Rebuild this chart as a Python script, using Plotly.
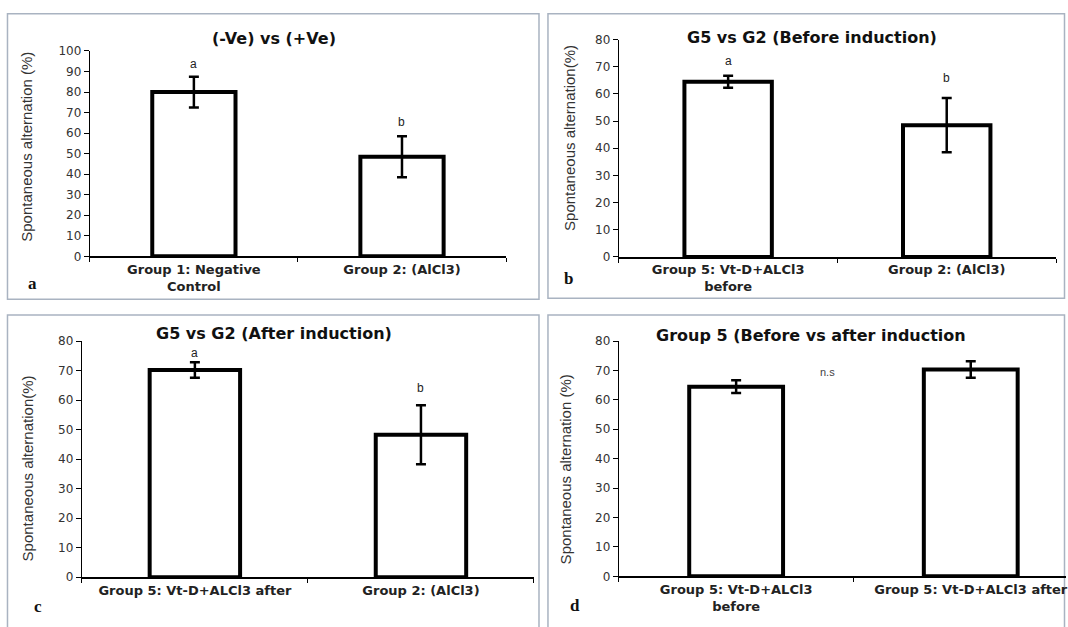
import plotly.graph_objects as go

W, H = 1068, 627

# ---------------- data ----------------
cats_a = ["Group 1: Negative<br>Control", "Group 2: (AlCl3)"]
vals_a = [80.0, 48.5]
err_a = [7.5, 10.0]
sig_a = ["a", "b"]

cats_b = ["Group 5: Vt-D+ALCl3<br>before", "Group 2: (AlCl3)"]
vals_b = [64.5, 48.5]
err_b = [2.2, 10.0]
sig_b = ["a", "b"]

cats_c = ["Group 5: Vt-D+ALCl3 after", "Group 2: (AlCl3)"]
vals_c = [70.2, 48.3]
err_c = [2.6, 10.0]
sig_c = ["a", "b"]

cats_d = ["Group 5: Vt-D+ALCl3<br>before", "Group 5: Vt-D+ALCl3 after"]
vals_d = [64.5, 70.3]
err_d = [2.2, 2.8]

titles = ["(-Ve) vs (+Ve)", "G5 vs G2 (Before induction)",
          "G5 vs G2 (After induction)", "Group 5 (Before vs after induction"]
ytitles = ["Spontaneous alternation (%)", "Spontaneous alternation(%)",
           "Spontaneous alternation(%)", "Spontaneous alternation (%)"]
panel_letters = ["a", "b", "c", "d"]


def fx(p):
    return p / W


def fy(p):
    return 1 - p / H


fig = go.Figure()

panels = [
    dict(cats=cats_a, vals=vals_a, err=err_a, ymax=100, xp=(90, 507), y0=255, ytop=45, xr=[-0.5, 1.5]),
    dict(cats=cats_b, vals=vals_b, err=err_b, ymax=80, xp=(620, 1058), y0=255.7, ytop=33.3, xr=[-0.5, 1.5]),
    dict(cats=cats_c, vals=vals_c, err=err_c, ymax=80, xp=(82, 535), y0=583.3, ytop=341.7, xr=[-0.5, 1.5]),
    dict(cats=cats_d, vals=vals_d, err=err_d, ymax=80, xp=(620, 1068), y0=582.3, ytop=341.7, xr=[-0.5, 1.406]),
]

tickfont = dict(family="DejaVu Sans", size=12, color="#333333")
catfont = dict(family="DejaVu Sans", size=13, color="#222222", weight="bold")

for i, p in enumerate(panels):
    n = "" if i == 0 else str(i + 1)
    fig.add_trace(go.Bar(
        x=[0, 1], y=p["vals"], width=0.4,
        marker=dict(color="white", line=dict(color="black", width=4)),
        error_y=dict(type="data", array=p["err"], color="black", thickness=2.5, width=5),
        xaxis="x" + n, yaxis="y" + n, showlegend=False,
    ))
    fig.layout["xaxis" + n] = dict(
        domain=[fx(p["xp"][0]), fx(p["xp"][1])], range=p["xr"],
        anchor="y" + n, tickvals=[0, 1], ticktext=p["cats"], ticks="",
        showline=True, linecolor="black", linewidth=1.5, showgrid=False,
        zeroline=False, tickfont=catfont, fixedrange=True,
        ticklabeloverflow="allow",
        minor=dict(tickvals=[-0.5, 0.5, 1.5], ticks="outside", ticklen=4,
                   tickcolor="black", tickwidth=1.2, showgrid=False),
    )
    fig.layout["yaxis" + n] = dict(
        domain=[fy(p["y0"]), fy(p["ytop"])], range=[0, p["ymax"]],
        anchor="x" + n, dtick=10, tick0=0, ticks="outside", ticklen=5,
        tickcolor="black", tickwidth=1.2, showline=True, linecolor="black",
        linewidth=1.2, showgrid=False, zeroline=False, tickfont=tickfont,
        fixedrange=True,
    )

annotations = []
# titles
title_pos = [(275, 32), (814, 31), (275, 334), (813, 336)]
for t, (x, y) in zip(titles, title_pos):
    annotations.append(dict(text=t, x=fx(x), y=fy(y), xref="paper", yref="paper",
                            showarrow=False, xanchor="center", yanchor="middle",
                            font=dict(family="DejaVu Sans", size=16, color="#111111", weight="bold")))
# y titles
ytitle_pos = [(27, 143), (570, 134), (28, 472), (566, 473)]
for t, (x, y) in zip(ytitles, ytitle_pos):
    annotations.append(dict(text=t, x=fx(x), y=fy(y), xref="paper", yref="paper",
                            showarrow=False, xanchor="center", yanchor="middle", textangle=-90,
                            font=dict(family="Liberation Sans", size=15, color="#333333")))
# panel letters
letter_pos = [(33, 283), (570, 278), (38, 613), (576, 612)]
for t, (x, y) in zip(panel_letters, letter_pos):
    annotations.append(dict(text=t, x=fx(x), y=fy(y), xref="paper", yref="paper",
                            showarrow=False, xanchor="center", yanchor="middle",
                            font=dict(family="Liberation Serif", size=17, color="#111111", weight="bold")))

# significance letters (data coordinates)
sig_y = {"": [93.8, 65.2], "2": [72.2, 66.0], "3": [76.0, 64.0]}
for n, sigs in zip(["", "2", "3"], [sig_a, sig_b, sig_c]):
    for k, s in enumerate(sigs):
        annotations.append(dict(text=s, x=k, y=sig_y[n][k], xref="x" + n, yref="y" + n,
                                showarrow=False, xanchor="center", yanchor="middle",
                                font=dict(family="Liberation Sans", size=12, color="#222222")))
annotations.append(dict(text="n.s", x=0.39, y=69.5, xref="x4", yref="y4",
                        showarrow=False, xanchor="center", yanchor="middle",
                        font=dict(family="Liberation Sans", size=11, color="#444444")))

# panel borders
shapes = []
boxes = [(7.5, 7, 540, 299), (549, 7, 1066.5, 298), (7.5, 315, 540, 640), (549, 315, 1066.5, 640)]
for (x0, y0, x1, y1) in boxes:
    shapes.append(dict(type="rect", xref="paper", yref="paper",
                       x0=fx(x0), x1=fx(x1), y0=fy(y1), y1=fy(y0),
                       line=dict(color="#a9b3c1", width=1.5), fillcolor="rgba(0,0,0,0)", layer="below"))

fig.update_layout(
    width=W, height=H, margin=dict(l=0, r=0, t=0, b=0),
    paper_bgcolor="white", plot_bgcolor="white",
    annotations=annotations, shapes=shapes, showlegend=False,
)

fig.write_html("out.html", config={"displayModeBar": False},
               post_script="document.body.style.margin='0';")
